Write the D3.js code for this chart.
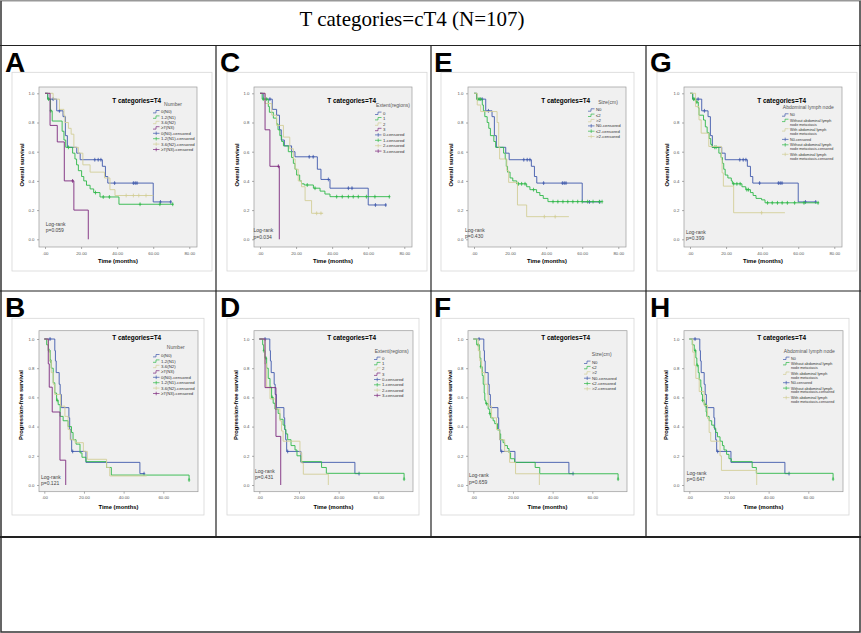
<!DOCTYPE html>
<html>
<head>
<meta charset="utf-8">
<script src="https://cdn.jsdelivr.net/npm/d3@7"></script>
<style>
  body { margin: 0; background: #fff; }
  svg { display: block; }
</style>
</head>
<body>
<svg id="fig" width="861" height="633"></svg>
<script>
// ---- curve data: [months, survival] steps, censor times ----
var osN0      = [[0,1],[1.5,0.96],[6.5,0.88],[10,0.84],[11.3,0.71],[12.4,0.63],[17.6,0.59],[19.5,0.545],[31.8,0.50],[33.5,0.43],[34.8,0.385],[60,0.256],[70,0.256]];
var osN0Cens  = [4.5, 8, 27.6, 29.5, 31, 38.6, 49, 50, 51, 64, 69.7];
var osN1      = [[0,1],[1.5,0.96],[3,0.88],[4,0.81],[9.5,0.74],[10.5,0.68],[11.5,0.63],[15.3,0.59],[16.6,0.55],[17.5,0.51],[18.5,0.47],[20.3,0.43],[21.5,0.40],[23,0.37],[25,0.345],[27,0.32],[30.5,0.29],[41,0.24],[71,0.24]];
var osN1Cens  = [2, 3.2, 13, 28, 32.3, 35.7, 52.7, 63.7, 70.8];
var osN2      = [[0,1],[4.5,0.96],[8,0.89],[10.5,0.85],[11,0.80],[13,0.76],[14.5,0.72],[16,0.63],[18.5,0.59],[21,0.51],[25,0.46],[33,0.42],[36,0.34],[38.8,0.30],[60,0.30]];
var osN2Cens  = [45, 49, 52, 56];
var osN3      = [[0,1],[2.8,0.78],[6.8,0.667],[10.7,0.40],[16,0.20],[24,0]];
var osN3Cens  = [15.3];

var pfsN0     = [[0,1],[5.3,0.92],[5.6,0.85],[6,0.77],[7.5,0.69],[8,0.62],[8.6,0.53],[12.4,0.46],[12.8,0.38],[13.3,0.31],[13.8,0.23],[21,0.155],[48.2,0.078],[50.3,0.078]];
var pfsN0Cens = [2.9, 14.3, 50.3];
var pfsN1     = [[0,1],[1.2,0.96],[2,0.92],[3,0.85],[3.5,0.80],[4.5,0.70],[5.3,0.63],[6.2,0.58],[7,0.55],[8,0.47],[9.5,0.44],[12,0.40],[13.7,0.36],[14.5,0.31],[16,0.28],[18,0.22],[19,0.19],[21,0.16],[31.4,0.12],[33.8,0.068],[73,0.034]];
var pfsN1Cens = [2.5, 3.2, 6.5, 73];
var pfsN2     = [[0,1],[2,0.92],[2.8,0.85],[3.5,0.77],[4.5,0.69],[5.3,0.62],[8.2,0.54],[10.4,0.47],[12,0.38],[13,0.31],[15.5,0.29],[19.7,0.23],[21.7,0.176],[31.4,0.12],[33,0.062],[51.6,0.062]];
var pfsN2Cens = [];
var pfsN3     = [[0,1],[2,0.83],[2.5,0.67],[4,0.50],[7.9,0.17],[10.8,0]];
var pfsN3Cens = [];

var osE0      = [[0,1],[1.8,0.96],[6.8,0.89],[9.2,0.85],[10.8,0.75],[11.8,0.68],[13.5,0.64],[17.5,0.60],[19.4,0.565],[31.8,0.48],[33.8,0.41],[38.8,0.35],[60,0.235],[70,0.235]];
var osE0Cens  = [5.5, 27.3, 29.5, 37.9, 49, 51, 64, 69.7];
var osE1      = [[0,1],[1.2,0.96],[4.6,0.91],[5.2,0.87],[7.4,0.83],[9.2,0.79],[10,0.75],[11,0.71],[12,0.67],[13,0.64],[15.7,0.60],[17.5,0.56],[18.5,0.52],[19.4,0.48],[20.3,0.44],[22,0.40],[23,0.38],[24.5,0.372],[29.6,0.35],[33.3,0.33],[36,0.31],[38.8,0.292],[71.7,0.292]];
var osE1Cens  = [1.8, 3.7, 26.2, 30.5, 42.5, 45.6, 49, 51.7, 54.5, 59, 63.7, 71.7];
var osE2      = [[0,1],[2.8,0.93],[6.5,0.85],[9.2,0.78],[13,0.70],[16.5,0.62],[18.5,0.55],[19.5,0.48],[21.2,0.40],[23,0.36],[25,0.265],[28.6,0.178],[35,0.178]];
var osE2Cens  = [31.4, 33.8];
var osE3      = [[0,1],[2.8,0.75],[5.5,0.50],[10.7,0]];
var osE3Cens  = [10.2];

var pfsE1     = [[0,1],[1.7,0.96],[2.2,0.92],[2.8,0.87],[3.7,0.80],[4.5,0.73],[5.4,0.67],[6.2,0.60],[7,0.56],[7.9,0.52],[9.5,0.49],[10.4,0.45],[12,0.41],[12.9,0.38],[13.4,0.35],[14.3,0.31],[16,0.27],[18,0.24],[19,0.20],[21,0.16],[31.4,0.12],[33.8,0.08],[73,0.04]];
var pfsE1Cens = [2.3, 3.3, 6.5, 73];
var pfsE2     = [[0,1],[2.8,0.83],[3.7,0.67],[5.4,0.59],[8.2,0.52],[10.4,0.44],[11.2,0.37],[12,0.30],[20.5,0.22],[21.4,0.15],[22.2,0.074],[34.8,0]];
var pfsE3     = [[0,1],[2.9,0.667],[8.4,0.333],[10.8,0]];

var osS2      = [[0,1],[1.5,0.96],[4.6,0.92],[5.2,0.88],[6,0.84],[7.3,0.80],[8.2,0.76],[9.1,0.71],[11,0.67],[12,0.63],[16.4,0.59],[17.3,0.55],[17.9,0.50],[18.6,0.46],[20,0.42],[21.5,0.40],[23.7,0.38],[29.2,0.36],[31,0.34],[34.7,0.32],[36.5,0.30],[38.4,0.28],[41,0.258],[71,0.258]];
var osS2Cens  = [2, 2.8, 3.5, 24.6, 26.4, 28.3, 33, 43.8, 46.5, 49.3, 52, 54.8, 57.5, 60, 63, 66, 69.5, 71];
var osS3      = [[0,1],[1.8,0.92],[3.7,0.875],[12.8,0.80],[13.7,0.63],[14.2,0.55],[18.2,0.47],[19.2,0.39],[24.1,0.235],[29.2,0.155],[52.6,0.155]];
var osS3Cens  = [39, 45];

var pfsS2     = [[0,1],[1.7,0.96],[3,0.92],[3.3,0.87],[3.8,0.81],[4.5,0.75],[5,0.69],[5.5,0.63],[5.8,0.58],[6.3,0.557],[7.5,0.52],[8.3,0.49],[8.8,0.46],[10,0.44],[10.8,0.42],[12.2,0.377],[13.3,0.35],[13.8,0.31],[15,0.29],[15.8,0.27],[17.2,0.25],[18,0.22],[18.8,0.18],[20.8,0.155],[31.2,0.12],[33.5,0.077],[73,0.04]];
var pfsS2Cens = [2.5, 3.8, 6.7, 8.3, 73];
var pfsS3     = [[0,1],[2.5,0.92],[3.3,0.85],[4.2,0.77],[5.8,0.69],[7.2,0.62],[7.5,0.54],[9.2,0.46],[11.7,0.38],[13.3,0.31],[15.8,0.23],[18.3,0.155],[21.3,0.077],[33.3,0]];

var osAbdNo      = [[0,1],[1.5,0.96],[3.2,0.94],[4.6,0.90],[5,0.85],[7.5,0.817],[8.5,0.77],[9.5,0.73],[10.6,0.69],[11.5,0.65],[12.2,0.63],[16,0.59],[17.2,0.56],[18,0.52],[18.7,0.48],[19.5,0.44],[21,0.42],[22.9,0.40],[23.5,0.38],[28.8,0.36],[30.9,0.34],[33.5,0.32],[35,0.30],[36.6,0.28],[39.7,0.27],[41.6,0.25],[71.4,0.25]];
var osAbdNoCens  = [2, 2.8, 3.8, 13.7, 14.5, 24.2, 26, 27.8, 31.5, 32.4, 43, 45.6, 48.5, 51.1, 54, 58, 63.2, 71];
var osAbdYes     = [[0,1],[3.1,0.909],[5,0.818],[6.2,0.727],[10.4,0.636],[17.4,0.545],[17.8,0.455],[18.5,0.364],[24.2,0.182],[52.6,0.182]];
var osAbdYesCens = [39.7];

var pfsAbdNo     = [[0,1],[1.5,0.96],[2.5,0.92],[3.3,0.87],[3.8,0.82],[4.5,0.77],[5,0.72],[5.8,0.67],[6.2,0.62],[6.7,0.58],[7.5,0.55],[8.5,0.50],[8.8,0.47],[10,0.44],[11.3,0.41],[12.5,0.39],[13.3,0.36],[14.2,0.33],[15.5,0.30],[16.7,0.27],[17.5,0.24],[18.8,0.21],[20,0.18],[21.2,0.16],[31.7,0.12],[33.8,0.08],[72.5,0.04]];
var pfsAbdNoCens = [3, 4, 6.7, 8, 72.5];
var pfsAbdYes    = [[0,1],[1.7,0.91],[2.5,0.82],[3.3,0.73],[5,0.64],[7.5,0.545],[9.2,0.455],[10,0.36],[10.8,0.30],[15.5,0.20],[16.2,0.10],[34,0]];

// ---- labels ----
var legendNumber = ['0(N0)', '1-2(N1)', '3-6(N2)', '\u22657(N3)'];
var legendExtent = ['0', '1', '2', '3'];
var legendSize   = ['N0', '\u22642', '>2'];
var legendAbd    = ['N0', 'Without abdominal lymph\nnode metastasis', 'With abdominal lymph\nnode metastasis'];
var pValues      = ['0.059', '0.121', '0.034', '0.431', '0.430', '0.659', '0.399', '0.647'];
var osTicks      = [0, 20, 40, 60, 80];
var pfsTicks     = [0, 20, 40, 60];
var survTicks    = [0, 0.2, 0.4, 0.6, 0.8, 1.0];

var colors = ['#3e58ac', '#2eb848', '#d3ce97', '#7c287d'];

var svg = d3.select('#fig');

// figure grid
var grid = svg.append('g').attr('fill', 'none');
grid.append('rect').attr('x', 1).attr('y', 0.5).attr('width', 859).attr('height', 631.5)
    .attr('stroke', '#333').attr('stroke-width', 1.5);
grid.append('line').attr('x1', 0).attr('x2', 861).attr('y1', 0.5).attr('y2', 0.5).attr('stroke', '#999');
[45.5, 291, 537].forEach(function(yy, i) {
  grid.append('line').attr('x1', 0).attr('x2', 861).attr('y1', yy).attr('y2', yy)
      .attr('stroke', '#222').attr('stroke-width', i == 2 ? 1.8 : 1.2);
});
[216, 431, 646].forEach(function(xx) {
  grid.append('line').attr('x1', xx).attr('x2', xx).attr('y1', 45.5).attr('y2', 537)
      .attr('stroke', '#222').attr('stroke-width', 1.2);
});

svg.append('text')
   .attr('x', 412).attr('y', 26)
   .attr('text-anchor', 'middle')
   .style('font-family', '"Liberation Serif", "Times New Roman", serif')
   .style('font-size', '21px')
   .text('T categories=cT4 (N=107)');

var rows = [
  { labelY: 72, frameTop: 72.3, frameH: 198.7, px0: 39, px1: 197, py0: 87, py1: 247,
    xDom: [0, 80], xRange: [45, 189.3], yRange: [239.3, 93.3], ticks: osTicks,
    yTitle: 'Overall survival', yTitleX: 23.5, yTitleY: 165, xTitleY: 263, titleY: 103 },
  { labelY: 317, frameTop: 318.3, frameH: 196.7, px0: 39, px1: 198, py0: 330.7, py1: 491.7,
    xDom: [0, 60], xRange: [44.3, 163.3], yRange: [485, 339], ticks: pfsTicks,
    yTitle: 'Progression-free survival', yTitleX: 22.5, yTitleY: 405, xTitleY: 509, titleY: 339.5 }
];

var panels = [
  { letter: 'A', row: 0, ox: 0, frameW: 200, legTitle: 'Number', labels: legendNumber,
    curves: [[osN0, osN0Cens], [osN1, osN1Cens], [osN2, osN2Cens], [osN3, osN3Cens]],
    p: pValues[0], lr: [45.7, 225.5], leg: { tx: 173, ty: 105.5, lx: 153, ly: 111.7, step: 5.4 } },
  { letter: 'B', row: 1, ox: 0, frameW: 192, legTitle: 'Number', labels: legendNumber,
    curves: [[pfsN0, pfsN0Cens], [pfsN1, pfsN1Cens], [pfsN2, pfsN2Cens], [pfsN3, pfsN3Cens]],
    p: pValues[1], lr: [41, 478.5], leg: { tx: 175.7, ty: 348.5, lx: 153, ly: 355.7, step: 5.4 } },
  { letter: 'C', row: 0, ox: 215, frameW: 200, legTitle: 'Extent(regions)', labels: legendExtent,
    curves: [[osE0, osE0Cens], [osE1, osE1Cens], [osE2, osE2Cens], [osE3, osE3Cens]],
    p: pValues[2], lr: [38.5, 232.3], leg: { tx: 178, ty: 107.2, lx: 160, ly: 113.3, step: 5.4 } },
  { letter: 'D', row: 1, ox: 215, frameW: 192, legTitle: 'Extent(regions)', labels: legendExtent,
    curves: [[pfsN0, pfsN0Cens], [pfsE1, pfsE1Cens], [pfsE2, []], [pfsE3, []]],
    p: pValues[3], lr: [40, 473], leg: { tx: 176.7, ty: 352.5, lx: 159, ly: 358.3, step: 5.3 } },
  { letter: 'E', row: 0, ox: 429, frameW: 193, legTitle: 'Size(cm)', labels: legendSize,
    curves: [[osN0, osN0Cens], [osS2, osS2Cens], [osS3, osS3Cens]],
    p: pValues[4], lr: [36, 232], leg: { tx: 179, ty: 103.5, lx: 159, ly: 110, step: 5.3 } },
  { letter: 'F', row: 1, ox: 429, frameW: 193, legTitle: 'Size(cm)', labels: legendSize,
    curves: [[pfsN0, pfsN0Cens], [pfsS2, pfsS2Cens], [pfsS3, []]],
    p: pValues[5], lr: [40, 477.3], leg: { tx: 172.7, ty: 355.8, lx: 155, ly: 362.3, step: 5.3 } },
  { letter: 'G', row: 0, ox: 645, frameW: 200, legTitle: 'Abdominal lymph node', labels: legendAbd,
    curves: [[osN0, osN0Cens], [osAbdNo, osAbdNoCens], [osAbdYes, osAbdYesCens]],
    p: pValues[6], lr: [41, 233.6], leg: { tx: 163.3, ty: 108.8, lx: 137, ly: 115, step: 5.3 } },
  { letter: 'H', row: 1, ox: 645, frameW: 192, legTitle: 'Abdominal lymph node', labels: legendAbd,
    curves: [[pfsN0, pfsN0Cens], [pfsAbdNo, pfsAbdNoCens], [pfsAbdYes, []]],
    p: pValues[7], lr: [41.7, 475], leg: { tx: 164.3, ty: 352.5, lx: 138, ly: 358.3, step: 5.3 } }
];

function stepAt(pts, t) {
  var s = pts[0][1];
  pts.forEach(function(d) { if (d[0] <= t) s = d[1]; });
  return s;
}

function drawPanel(p) {
  var R = rows[p.row];
  var g = svg.append('g').attr('transform', 'translate(' + p.ox + ',0)');

  g.append('text')
   .attr('x', 5).attr('y', R.labelY)
   .style('font-family', '"Liberation Sans", Arial, sans-serif')
   .style('font-weight', 'bold')
   .style('font-size', '28px')
   .text(p.letter);

  // chart frame and plot area
  g.append('rect')
   .attr('x', 12).attr('y', R.frameTop).attr('width', p.frameW).attr('height', R.frameH)
   .attr('fill', '#fff').attr('stroke', '#d6d6d6').attr('stroke-width', 0.8);
  g.append('rect')
   .attr('x', R.px0).attr('y', R.py0).attr('width', R.px1 - R.px0).attr('height', R.py1 - R.py0)
   .attr('fill', '#f0f0f0').attr('stroke', '#9a9a9a').attr('stroke-width', 0.7);

  var x = d3.scaleLinear().domain(R.xDom).range(R.xRange);
  var y = d3.scaleLinear().domain([0, 1]).range(R.yRange);

  var yAxis = g.append('g').attr('transform', 'translate(' + R.px0 + ',0)')
               .call(d3.axisLeft(y).tickValues(survTicks).tickSize(2).tickPadding(2.5)
                       .tickFormat(d3.format('.1f')));
  var xAxis = g.append('g').attr('transform', 'translate(0,' + R.py1 + ')')
               .call(d3.axisBottom(x).tickValues(R.ticks).tickSize(2).tickPadding(2.5)
                       .tickFormat(function(d) { return d === 0 ? '.00' : d.toFixed(2); }));
  [xAxis, yAxis].forEach(function(a) {
    a.select('.domain').remove();
    a.selectAll('line').attr('stroke', '#777').attr('stroke-width', 0.6);
    a.selectAll('text').attr('fill', '#555')
     .style('font-family', '"Liberation Sans", Arial, sans-serif').style('font-size', '4.3px');
  });

  g.append('text')
   .attr('x', (R.px0 + R.px1) / 2).attr('y', R.xTitleY)
   .attr('text-anchor', 'middle')
   .style('font-family', '"Liberation Sans", Arial, sans-serif')
   .style('font-weight', 'bold').style('font-size', '5.8px')
   .text('Time (months)');
  g.append('text')
   .attr('transform', 'translate(' + R.yTitleX + ',' + R.yTitleY + ') rotate(-90)')
   .attr('text-anchor', 'middle')
   .style('font-family', '"Liberation Sans", Arial, sans-serif')
   .style('font-weight', 'bold').style('font-size', '5.8px')
   .text(R.yTitle);
  g.append('text')
   .attr('x', 136.7).attr('y', R.titleY)
   .attr('text-anchor', 'middle')
   .style('font-family', '"Liberation Sans", Arial, sans-serif')
   .style('font-weight', 'bold').style('font-size', '6.4px')
   .text('T categories=T4');

  // survival curves
  var line = d3.line().x(function(d) { return x(d[0]); }).y(function(d) { return y(d[1]); })
               .curve(d3.curveStepAfter);
  p.curves.forEach(function(c, i) {
    g.append('path').attr('d', line(c[0]))
     .attr('fill', 'none').attr('stroke', colors[i]).attr('stroke-width', 0.9);
    g.selectAll('.cens' + i).data(c[1]).enter()
     .append('path')
     .attr('d', function(t) {
       var cx = x(t), cy = y(stepAt(c[0], t));
       return 'M' + cx + ',' + (cy - 1.9) + 'V' + (cy + 1.9) + 'M' + (cx - 1.2) + ',' + cy + 'H' + (cx + 1.2);
     })
     .attr('fill', 'none').attr('stroke', colors[i]).attr('stroke-width', 0.8);
  });

  // legend
  var L = p.leg;
  var lg = g.append('g')
            .style('font-family', '"Liberation Sans", Arial, sans-serif');
  lg.append('text').attr('x', L.tx).attr('y', L.ty).attr('text-anchor', 'middle')
    .attr('fill', '#555').style('font-size', '5px').text(p.legTitle);
  var entries = [];
  p.labels.forEach(function(l, i) { entries.push({ text: l, i: i, cens: false }); });
  p.labels.forEach(function(l, i) { entries.push({ text: l + '-censored', i: i, cens: true }); });
  var yy = L.ly;
  var twoLine = p.labels.some(function(l) { return l.indexOf('\n') >= 0; });
  var fs = twoLine ? 3.7 : 4.3;
  entries.forEach(function(e) {
    var col = colors[e.i];
    if (e.cens) {
      lg.append('path')
        .attr('d', 'M' + L.lx + ',' + yy + 'H' + (L.lx + 6.5) +
                   'M' + (L.lx + 3.2) + ',' + (yy - 1.8) + 'V' + (yy + 1.8))
        .attr('fill', 'none').attr('stroke', col).attr('stroke-width', 0.7);
    } else {
      lg.append('path')
        .attr('d', 'M' + L.lx + ',' + (yy + 1.2) + 'H' + (L.lx + 3) + 'V' + (yy - 1.2) + 'H' + (L.lx + 6.5))
        .attr('fill', 'none').attr('stroke', col).attr('stroke-width', 0.7);
    }
    var lines = e.text.split('\n');
    var t = lg.append('text').attr('x', L.lx + 8).attr('y', yy + 1.4)
              .attr('fill', '#333').style('font-size', fs + 'px');
    lines.forEach(function(s, k) {
      t.append('tspan').attr('x', L.lx + 8).attr('dy', k == 0 ? 0 : 3.9).text(s);
    });
    yy += lines.length > 1 ? 9.5 : (twoLine ? 5.4 : L.step);
  });

  // log-rank note
  var lr = g.append('text').attr('fill', '#444')
            .style('font-family', '"Liberation Sans", Arial, sans-serif').style('font-size', '5px');
  lr.append('tspan').attr('x', p.lr[0]).attr('y', p.lr[0] ? p.lr[1] : 0).text('Log-rank');
  lr.append('tspan').attr('x', p.lr[0]).attr('dy', 6.3).text('p=' + p.p);
}

panels.forEach(drawPanel);
</script>
</body>
</html>
